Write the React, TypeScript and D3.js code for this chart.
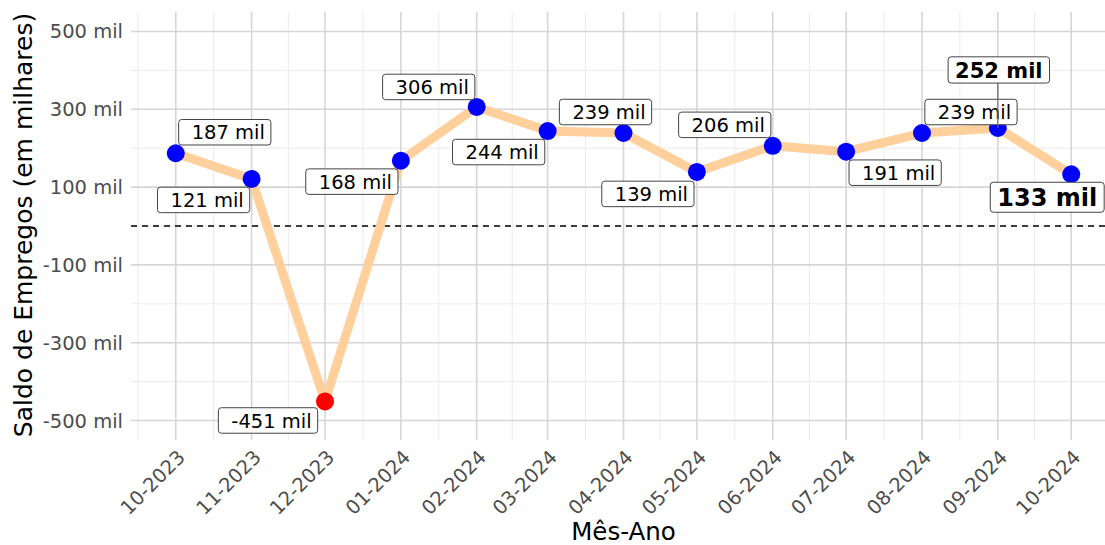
import React from "react";
import * as d3 from "d3";

const months = ["10-2023","11-2023","12-2023","01-2024","02-2024","03-2024","04-2024","05-2024","06-2024","07-2024","08-2024","09-2024","10-2024"];
const saldo = [187, 121, -451, 168, 306, 244, 239, 139, 206, 191, 239, 252, 133];
const yTicks = [-500, -300, -100, 100, 300, 500];
const yMinor = [-400, -200, 0, 200, 400];
// label offsets (repel layout) in px relative to point
const labelDx = [49, -48, -57, -49, -48, -49, -18, -49, -48, 49, 49, 1, -24];
const labelDy = [-21, 21, 19, 21, -20, 21, -21, 22, -21, 21, -21, -58, 23];
const highlight = [false, false, false, false, false, false, false, false, false, false, false, true, true];
const highlightSize = [0,0,0,0,0,0,0,0,0,0,0,21,24];

const W = 1105, H = 545;
const parse = d3.timeParse("%m-%Y");
const dates = months.map((m) => parse(m) as Date);

function measure(text: string, size: number, bold: boolean) {
  const c = document.createElement("canvas").getContext("2d")!;
  c.font = `${bold ? "bold " : ""}${size}px "DejaVu Sans"`;
  return c.measureText(text).width;
}

export default function App() {
  const d0 = dates[0], d1 = dates[dates.length - 1];
  const span = d1.getTime() - d0.getTime();
  const x = d3.scaleTime()
    .domain([new Date(d0.getTime() - span * 0.05), new Date(d1.getTime() + span * 0.05)])
    .range([131, 1116]);
  const y = d3.scaleLinear().domain([-550, 550]).range([440, 12]);
  const left = 131, right = W, top = 12, bottom = 440;

  const minorX: Date[] = [];
  for (let i = 0; i < dates.length - 1; i++) {
    minorX.push(new Date((dates[i].getTime() + dates[i + 1].getTime()) / 2));
  }
  minorX.unshift(new Date(dates[0].getTime() - (dates[1].getTime() - dates[0].getTime()) / 2));

  const line = d3.line<number>().x((_, i) => x(dates[i])).y((v) => y(v));
  const font = "'DejaVu Sans', sans-serif";
  const tickFs = 19.5;

  return (
    <svg width={W} height={H} style={{ position: "absolute", left: 0, top: 0, background: "#fff" }} fontFamily={font}>
      <rect width={W} height={H} fill="#fff" />
      {yMinor.map((v) => (
        <line key={"ym" + v} x1={left} x2={right} y1={y(v)} y2={y(v)} stroke="#ebebeb" strokeWidth={1} />
      ))}
      {minorX.map((d, i) => (
        <line key={"xm" + i} x1={x(d)} x2={x(d)} y1={top} y2={bottom} stroke="#ebebeb" strokeWidth={1} />
      ))}
      {yTicks.map((v) => (
        <line key={"y" + v} x1={left} x2={right} y1={y(v)} y2={y(v)} stroke="#d6d6d6" strokeWidth={1.6} />
      ))}
      {dates.map((d, i) => (
        <line key={"x" + i} x1={x(d)} x2={x(d)} y1={top} y2={bottom} stroke="#d6d6d6" strokeWidth={1.6} />
      ))}
      <line x1={left} x2={right} y1={y(0)} y2={y(0)} stroke="#000" strokeWidth={1.4} strokeDasharray="6,5" />
      <path d={line(saldo) || ""} fill="none" stroke="#ffcf9c" strokeWidth={9} strokeLinejoin="round" />
      {saldo.map((v, i) => (
        <circle key={"p" + i} cx={x(dates[i])} cy={y(v)} r={9} fill={v < 0 ? "#ff0000" : "#0000ff"} />
      ))}
      {saldo.map((v, i) => {
        const px = x(dates[i]), py = y(v);
        const cx = px + labelDx[i], cy = py + labelDy[i];
        const bold = highlight[i];
        const size = bold ? highlightSize[i] : 19.5;
        const text = `${v} mil`;
        const tw = measure(text, size, bold);
        const padL = bold ? 7 : 13, padR = bold ? 7 : 6;
        const bw = tw + padL + padR;
        const bh = bold ? size * 1.25 : 25.5;
        const bx = cx - bw / 2, by = cy - bh / 2;
        const showSeg = Math.abs(labelDy[i]) > 40;
        return (
          <g key={"l" + i}>
            {showSeg && (
              <line x1={px} y1={py} x2={px} y2={by + bh} stroke="#666" strokeWidth={1.2} />
            )}
            <rect x={bx} y={by} width={bw} height={bh} rx={3} ry={3} fill="#fff" stroke="#444" strokeWidth={1} />
            <text x={bx + padL} y={cy} dy="0.36em" fontSize={size} fontWeight={bold ? "bold" : "normal"} fill="#000">
              {text}
            </text>
          </g>
        );
      })}
      {yTicks.map((v) => (
        <text key={"yt" + v} x={123} y={y(v)} dy="0.36em" textAnchor="end" fontSize={tickFs} fill="#4d4d4d">
          {`${v} mil`}
        </text>
      ))}
      {months.map((m, i) => (
        <text key={"xt" + i} transform={`translate(${x(dates[i]) - 47},${516}) rotate(-45)`} textAnchor="start" fontSize={tickFs} fill="#4d4d4d">
          {m}
        </text>
      ))}
      <text x={(left + 1116) / 2} y={540} textAnchor="middle" fontSize={24.5} fill="#000">Mês-Ano</text>
      <text transform={`translate(32,${(top + bottom) / 2 - 1}) rotate(-90)`} textAnchor="middle" fontSize={25} fill="#000">
        Saldo de Empregos (em milhares)
      </text>
    </svg>
  );
}
